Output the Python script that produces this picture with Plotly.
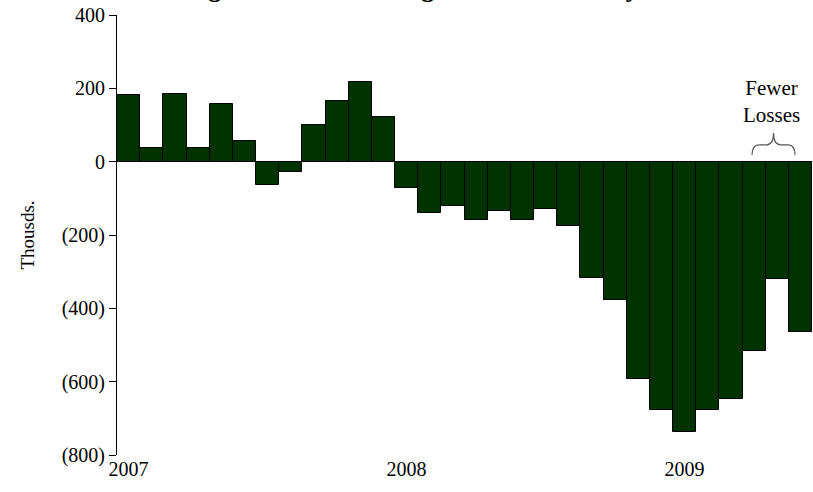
import plotly.graph_objects as go

# Monthly change in nonfarm payrolls, thousands, Jan 2007 - Jun 2009
months = [
    "Jan 2007", "Feb 2007", "Mar 2007", "Apr 2007", "May 2007", "Jun 2007",
    "Jul 2007", "Aug 2007", "Sep 2007", "Oct 2007", "Nov 2007", "Dec 2007",
    "Jan 2008", "Feb 2008", "Mar 2008", "Apr 2008", "May 2008", "Jun 2008",
    "Jul 2008", "Aug 2008", "Sep 2008", "Oct 2008", "Nov 2008", "Dec 2008",
    "Jan 2009", "Feb 2009", "Mar 2009", "Apr 2009", "May 2009", "Jun 2009",
]
change = [
    182, 37, 185, 37, 158, 56,
    -64, -27, 101, 165, 217, 121,
    -71, -141, -121, -159, -135, -159,
    -128, -175, -318, -377, -593, -678,
    -737, -678, -648, -517, -321, -465,
]
year_ticks = ["Jan 2007", "Jan 2008", "Jan 2009"]
year_labels = ["2007", "2008", "2009"]
y_ticks = [400, 200, 0, -200, -400, -600, -800]
y_labels = ["400", "200", "0", "(200)", "(400)", "(600)", "(800)"]

serif = "Liberation Serif, Times New Roman, serif"

fig = go.Figure(
    go.Bar(
        x=months,
        y=change,
        marker=dict(color="#003300", line=dict(color="#000000", width=1)),
        hoverinfo="x+y",
    )
)

# curly brace over the last few months
bx0, bx1 = 26.91, 28.77
bxc = (bx0 + bx1) / 2
y_arm, y_mid, y_tip = 18, 46, 78
d = 0.3
brace = (
    f"M {bx0},{y_arm} Q {bx0},{y_mid} {bx0 + d},{y_mid} "
    f"L {bxc - d},{y_mid} Q {bxc},{y_mid} {bxc},{y_tip} "
    f"Q {bxc},{y_mid} {bxc + d},{y_mid} "
    f"L {bx1 - d},{y_mid} Q {bx1},{y_mid} {bx1},{y_arm}"
)
fig.add_shape(type="path", path=brace, xref="x", yref="y",
              line=dict(color="#555555", width=1.2))

fig.add_annotation(
    x=27.75, y=90, xref="x", yref="y",
    text="Fewer<br>Losses", showarrow=False,
    font=dict(family=serif, size=21, color="#000000"),
    yanchor="bottom", align="center",
)

# chart heading, sitting at the very top edge of the page
fig.add_annotation(
    x=0.02, y=1.0227, xref="paper", yref="paper",
    xanchor="left", yanchor="bottom",
    text="<b>Slowing Net Losses: Change in Total Monthly Nonfarm</b>",
    showarrow=False,
    font=dict(family=serif, size=26, color="#000000"),
)

fig.update_layout(
    width=813, height=492,
    margin=dict(l=117, r=1, t=15, b=37),
    paper_bgcolor="white", plot_bgcolor="white",
    bargap=0,
    showlegend=False,
    font=dict(family=serif, size=20, color="#000000"),
)
fig.update_xaxes(
    type="category",
    tickmode="array", tickvals=year_ticks, ticktext=year_labels,
    showline=False, showgrid=False, zeroline=False, ticks="",
    tickfont=dict(family=serif, size=20),
    range=[-0.5, 29.5],
)
fig.update_yaxes(
    range=[-800, 400],
    tickmode="array", tickvals=y_ticks, ticktext=y_labels,
    showline=True, linecolor="#000000", linewidth=1,
    ticks="outside", ticklen=7, tickcolor="#000000",
    showgrid=False, zeroline=True, zerolinecolor="#000000", zerolinewidth=1,
    tickfont=dict(family=serif, size=20),
    title=dict(text="Thousds.", font=dict(family=serif, size=19), standoff=22),
)

fig.write_html("out.html")
